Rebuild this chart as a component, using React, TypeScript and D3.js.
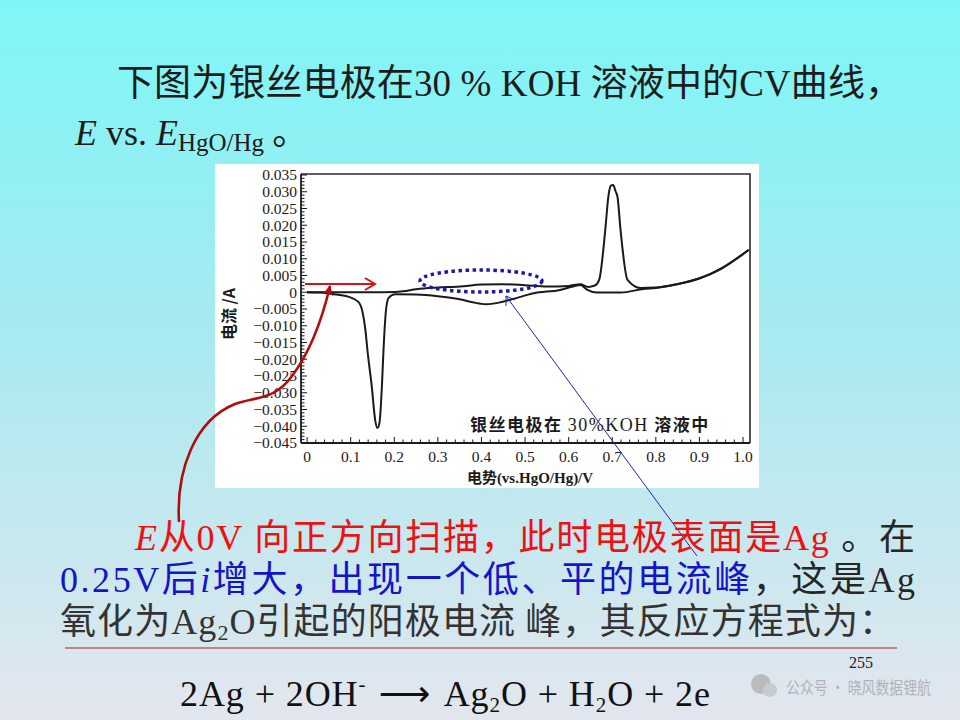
import React from "react";
import { scaleLinear, line as d3line, curveMonotoneX, range } from "d3";

// forward (anodic) sweep, 0 V -> 1.0 V, current in A
const anodicE = [0, 0.05, 0.1, 0.15, 0.2, 0.22, 0.25, 0.3, 0.35, 0.4, 0.45, 0.5, 0.55, 0.6, 0.627, 0.645, 0.66, 0.67, 0.684, 0.691, 0.697, 0.702, 0.708, 0.712, 0.719, 0.735, 0.765, 0.8, 0.85, 0.9, 0.95, 0.98, 1.013];
const anodicI = [0, 0, 0, 0, 0.0001, 0.0003, 0.0009, 0.0014, 0.0017, 0.0023, 0.0024, 0.0021, 0.0017, 0.0019, 0.0024, 0.0016, 0.002, 0.0037, 0.0186, 0.0285, 0.0318, 0.032, 0.03, 0.0285, 0.0186, 0.0037, 0.0013, 0.0014, 0.0025, 0.0042, 0.007, 0.0095, 0.0126];

// reverse (cathodic) sweep, listed by rising potential
const cathodicE = [0, 0.03, 0.057, 0.094, 0.117, 0.127, 0.1335, 0.139, 0.1485, 0.156, 0.1615, 0.166, 0.1715, 0.175, 0.179, 0.181, 0.187, 0.202, 0.25, 0.3, 0.35, 0.38, 0.41, 0.44, 0.47, 0.52, 0.58, 0.61, 0.627, 0.642, 0.665, 0.72, 0.772, 0.8, 0.85, 0.9, 0.95, 0.98, 1.013];
const cathodicI = [0, -0.0001, -0.0005, -0.0013, -0.0028, -0.0058, -0.011, -0.018, -0.0283, -0.038, -0.0405, -0.039, -0.0283, -0.018, -0.0085, -0.0053, -0.0017, -0.0006, -0.0007, -0.0012, -0.0021, -0.003, -0.0036, -0.0031, -0.0021, -0.0003, 0.0007, 0.0017, 0.0022, 0.0008, -0.0001, -0.0001, 0.001, 0.0013, 0.0024, 0.0041, 0.0071, 0.0096, 0.0127];

const yTickValues = [0.035, 0.03, 0.025, 0.02, 0.015, 0.01, 0.005, 0, -0.005, -0.01, -0.015, -0.02, -0.025, -0.03, -0.035, -0.04, -0.045];
const yTickLabels = ["0.035", "0.030", "0.025", "0.020", "0.015", "0.010", "0.005", "0", "\u22120.005", "\u22120.010", "\u22120.015", "\u22120.020", "\u22120.025", "\u22120.030", "\u22120.035", "\u22120.040", "\u22120.045"];
const xTickValues = [0, 0.1, 0.2, 0.3, 0.4, 0.5, 0.6, 0.7, 0.8, 0.9, 1.0];
const xTickLabels = ["0", "0.1", "0.2", "0.3", "0.4", "0.5", "0.6", "0.7", "0.8", "0.9", "1.0"];

const chartTitle = ["银丝电极在 ", "30%KOH", " 溶液中"];
const xAxisTitle = "电势(vs.HgO/Hg)/V";
const yAxisTitle = "电流 /A";

const serif = "'Liberation Serif', 'Noto Sans CJK SC', serif";
const cjk = "'Noto Sans CJK SC', sans-serif";

export default function App() {
  const x = scaleLinear().domain([-0.014, 1.016]).range([301, 750]);
  const y = scaleLinear().domain([-0.045, 0.035]).range([443, 175]);

  const path = d3line<[number, number]>()
    .x((d) => x(d[0]))
    .y((d) => y(d[1]))
    .curve(curveMonotoneX);

  const anodic = path(anodicE.map((e, k) => [e, anodicI[k]] as [number, number])) ?? "";
  const cathodic = path(cathodicE.map((e, k) => [e, cathodicI[k]] as [number, number])) ?? "";

  const yMinor = range(-45, 36).map((v) => v / 1000);
  const xMinor = range(0, 51).map((v) => v / 50);

  return (
    <div style={{ position: "absolute", left: 0, top: 0 }}>
      <svg width={960} height={720} viewBox="0 0 960 720">
        <defs>
          <linearGradient id="bg" x1="0" x2="0" y1="0" y2="1">
            <stop offset="0%" stopColor="#7df6f7" />
            <stop offset="45%" stopColor="#a6eaf0" />
            <stop offset="100%" stopColor="#e3e6ee" />
          </linearGradient>
          <marker id="redHead" viewBox="0 0 10 10" refX="9" refY="5" markerWidth="4" markerHeight="4" orient="auto">
            <path d="M0,0 L10,5 L0,10 L3,5 Z" fill="#b00d0d" />
          </marker>
        </defs>
        <rect width={960} height={720} fill="url(#bg)" />

        {/* heading */}
        <text x={117} y={96} fontSize={37} fill="#1c1c1c" fontFamily={serif} textLength={785} lengthAdjust="spacing">
          <tspan fontFamily={cjk}>下图为银丝电极在</tspan>
          <tspan>30 % KOH </tspan>
          <tspan fontFamily={cjk}>溶液中的</tspan>
          <tspan>CV</tspan>
          <tspan fontFamily={cjk}>曲线，</tspan>
        </text>
        <text x={75} y={145} fontSize={36} fill="#1c1c1c" fontFamily={serif}>
          <tspan fontStyle="italic">E</tspan>
          <tspan> vs. </tspan>
          <tspan fontStyle="italic">E</tspan>
          <tspan fontSize={25} dy={6}>HgO/Hg</tspan>
          <tspan dy={-6} fontFamily={cjk}> 。</tspan>
        </text>

        {/* chart image */}
        <rect x={215} y={164} width={544} height={324} fill="#ffffff" />
        <path d="M301,174 H750 V443" fill="none" stroke="#2a2a2a" strokeWidth={1.6} />
        <line x1={301} x2={301} y1={174} y2={443} stroke="#1a1a1a" strokeWidth={1.8} />
        <line x1={301} x2={750} y1={443} y2={443} stroke="#1a1a1a" strokeWidth={1.8} />
        {yMinor.map((v, k) => (
          <line key={"ym" + k} x1={301} x2={Math.abs(Math.round(v * 1000)) % 5 === 0 ? 307 : 304.5} y1={y(v)} y2={y(v)} stroke="#1a1a1a" strokeWidth={1} />
        ))}
        {xMinor.map((v, k) => (
          <line key={"xm" + k} x1={x(v)} x2={x(v)} y1={443} y2={k % 5 === 0 ? 437 : 439.5} stroke="#1a1a1a" strokeWidth={1} />
        ))}
        {yTickValues.map((v, k) => (
          <text key={"yl" + k} x={297} y={y(v)} dy="0.35em" textAnchor="end" fontSize={15.5} fontFamily={serif} fill="#1a1a1a">
            {yTickLabels[k]}
          </text>
        ))}
        {xTickValues.map((v, k) => (
          <text key={"xl" + k} x={x(v)} y={462} textAnchor="middle" fontSize={15.5} fontFamily={serif} fill="#1a1a1a">
            {xTickLabels[k]}
          </text>
        ))}
        <text transform="translate(235,314) rotate(-90)" textAnchor="middle" fontSize={16} fontWeight={700} fontFamily={cjk} fill="#1a1a1a">
          {yAxisTitle}
        </text>
        <text x={530} y={483} textAnchor="middle" fontSize={15} fontWeight={700} fontFamily={serif} fill="#1a1a1a">
          {xAxisTitle}
        </text>
        <text x={470} y={431} fontSize={17} fontWeight={700} fontFamily={serif} fill="#1a1a1a" letterSpacing={1.5}>
          <tspan fontFamily={cjk}>{chartTitle[0]}</tspan>
          <tspan fontWeight={400} fontSize={18}>{chartTitle[1]}</tspan>
          <tspan fontFamily={cjk}>{chartTitle[2]}</tspan>
        </text>

        <path d={cathodic} fill="none" stroke="#1a1a1a" strokeWidth={2} strokeLinejoin="round" />
        <path d={anodic} fill="none" stroke="#1a1a1a" strokeWidth={2} strokeLinejoin="round" />

        {/* annotations */}
        <g stroke="#d01515" strokeWidth={2} fill="none">
          <line x1={305} x2={375} y1={284} y2={284} />
          <path d="M365,278 L375,284 L365,290" />
        </g>
        <path
          d="M179,522 C176,470 195,420 235,404 C255,397 275,400 292,376 C310,352 322,320 330,286"
          fill="none"
          stroke="#b00d0d"
          strokeWidth={2.6}
          markerEnd="url(#redHead)"
        />
        <ellipse cx={481} cy={281} rx={61} ry={11} fill="none" stroke="#1a1aa8" strokeWidth={3.5} strokeDasharray="3.5 3.5" />
        <g stroke="#2323b5" strokeWidth={1} fill="none">
          <line x1={697} y1={556} x2={506} y2={296} />
          <path d="M506,306 L506,296 L515,300" />
        </g>

        {/* explanation */}
        <text x={135} y={550} fontSize={36} fontFamily={serif} fill="#ee1111" textLength={780} lengthAdjust="spacing">
          <tspan fontStyle="italic">E</tspan>
          <tspan fontFamily={cjk}>从</tspan>
          <tspan>0V </tspan>
          <tspan fontFamily={cjk}>向正方向扫描，此时电极表面是</tspan>
          <tspan>Ag </tspan>
          <tspan fill="#262626" fontFamily={cjk}>。在</tspan>
        </text>
        <text x={60} y={592} fontSize={36} fontFamily={serif} fill="#1414c8" textLength={855} lengthAdjust="spacing">
          <tspan>0.25V</tspan>
          <tspan fontFamily={cjk}>后</tspan>
          <tspan fontStyle="italic">i</tspan>
          <tspan fontFamily={cjk}>增大，出现一个低、平的电流峰</tspan>
          <tspan fill="#262626" fontFamily={cjk}>，这是</tspan>
          <tspan fill="#262626">Ag</tspan>
        </text>
        <text x={60} y={634} fontSize={36} fontFamily={serif} fill="#333333" textLength={835} lengthAdjust="spacing">
          <tspan fontFamily={cjk}>氧化为</tspan>
          <tspan>Ag</tspan>
          <tspan fontSize={22} dy={6}>2</tspan>
          <tspan dy={-6}>O</tspan>
          <tspan fontFamily={cjk}>引起的阳极电流 峰，其反应方程式为：</tspan>
        </text>
        <line x1={65} x2={897} y1={648} y2={648} stroke="#b02020" strokeWidth={1.2} />

        <text x={180} y={706} fontSize={36} fontFamily={serif} fill="#111" textLength={530} lengthAdjust="spacing">
          <tspan>2Ag + 2OH</tspan>
          <tspan fontSize={21} dy={-15}>-</tspan>
          <tspan dy={15} fontFamily="'DejaVu Sans'"> ⟶ </tspan>
          <tspan>Ag</tspan>
          <tspan fontSize={21} dy={6}>2</tspan>
          <tspan dy={-6}>O + H</tspan>
          <tspan fontSize={21} dy={6}>2</tspan>
          <tspan dy={-6}>O + 2e</tspan>
        </text>

        {/* watermark */}
        <g opacity={0.55}>
          <circle cx={761} cy={684} r={10} fill="#9a9a9a" />
          <circle cx={770} cy={690} r={7} fill="#b5b5b5" />
          <text x={786} y={694} fontSize={17} fontFamily={cjk} fill="#8c8c8c" textLength={145} lengthAdjust="spacingAndGlyphs">公众号 · 晓风数据锂航</text>
        </g>
        <text x={849} y={668} fontSize={16} fontFamily={serif} fill="#222">255</text>
      </svg>
    </div>
  );
}
